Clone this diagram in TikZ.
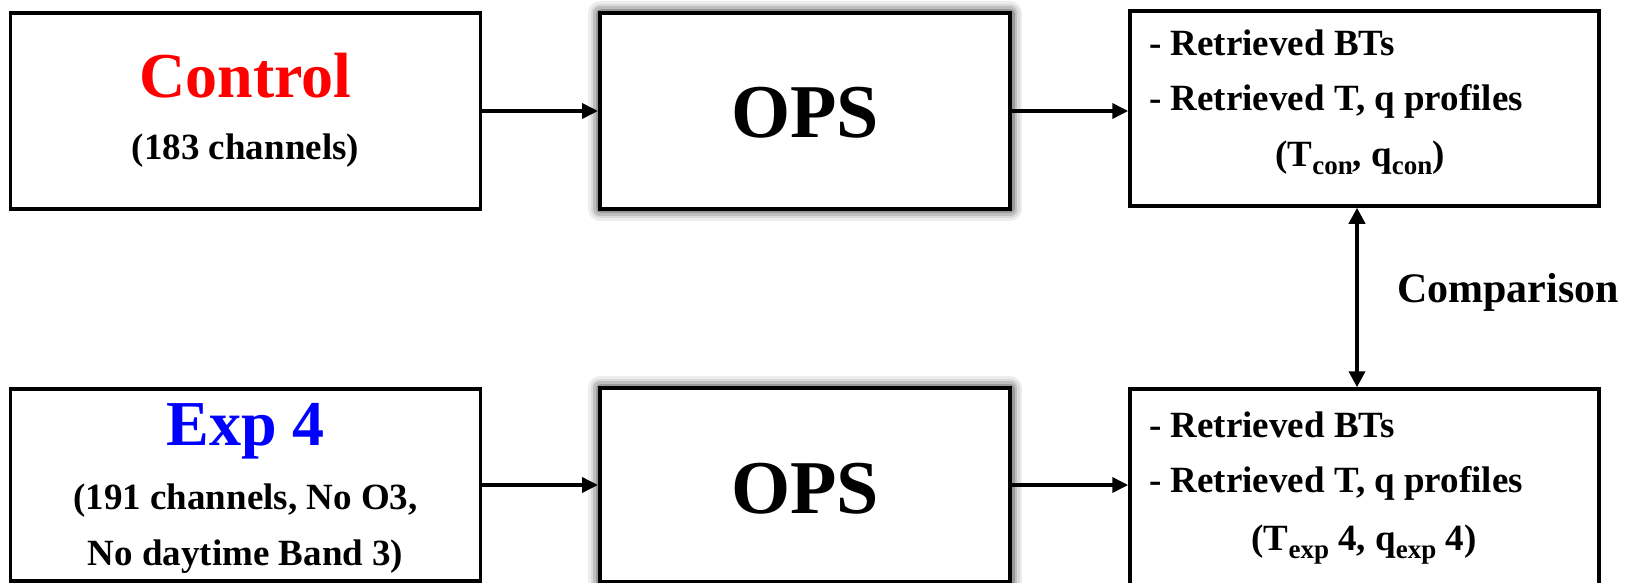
\documentclass[tikz,border=0pt]{standalone}
\usepackage{fontspec}
\setmainfont{Liberation Serif}
\usetikzlibrary{arrows.meta}
\newcommand\lowsub[1]{\raisebox{-8pt}{\fontsize{27}{27}\selectfont #1}}
\begin{document}
\begin{tikzpicture}[x=1pt,y=-1pt,
  box/.style={draw=black,line width=3.5pt,fill=white,inner sep=0pt},
  opsbox/.style={box,line width=4pt,
    preaction={draw=black!7,line width=24pt,line join=round},
    preaction={draw=black!14,line width=19pt,line join=round},
    preaction={draw=black!25,line width=14pt,line join=round},
    preaction={draw=black!40,line width=9pt,line join=round}},
  conn/.style={line width=3.6pt,-{Triangle[length=16pt,width=15pt]}},
  dconn/.style={line width=3.8pt,{Triangle[length=16pt,width=16pt]}-{Triangle[length=16pt,width=16pt]}},
  txt/.style={inner sep=0pt,font=\bfseries\fontsize{37}{44}\selectfont},
  big/.style={inner sep=0pt,font=\bfseries\fontsize{64}{70}\selectfont},
  opst/.style={inner sep=0pt,font=\bfseries\fontsize{76}{80}\selectfont},
]
\useasboundingbox (0,0) rectangle (1634,583);
\clip (0,0) rectangle (1634,583);
% boxes
\node[box,minimum width=470pt,minimum height=195.5pt] (ctrl) at (245.5,111) {};
\node[opsbox,minimum width=410pt,minimum height=195.5pt] (ops1) at (805,111) {};
\node[box,minimum width=469pt,minimum height=195pt] (res1) at (1364.5,108.5) {};
\node[box,minimum width=470pt,minimum height=192pt] (exp4) at (245.5,485) {};
\node[opsbox,minimum width=410pt,minimum height=194pt] (ops2) at (805,485) {};
\node[box,minimum width=469pt,minimum height=205pt] (res2) at (1364.5,491.5) {};
% texts
\node[big,text=red,anchor=base] (ctrlt) at (245.5,98) {Control};
\node[txt,anchor=base] (ctrls) at (245.5,160) {(183 channels)};
\node[opst,anchor=base] (ops1t) at (805,138) {OPS};
\node[big,text=blue,anchor=base] (exp4t) at (245.5,445) {Exp 4};
\node[txt,anchor=base] (exp4a) at (245.5,509) {(191 channels, No O3,};
\node[txt,anchor=base] (exp4b) at (245.5,565) {No daytime Band 3)};
\node[opst,anchor=base] (ops2t) at (805,513) {OPS};
\node[txt,anchor=base west] (r1a) at (1149,56) {- Retrieved BTs};
\node[txt,anchor=base west] (r1b) at (1149,111) {- Retrieved T, q profiles};
\node[txt,anchor=base] (r1c) at (1360,167) {(T\lowsub{con}, q\lowsub{con})};
\node[txt,anchor=base west] (r2a) at (1149,437) {- Retrieved BTs};
\node[txt,anchor=base west] (r2b) at (1149,492) {- Retrieved T, q profiles};
\node[txt,anchor=base] (r2c) at (1364,550) {(T\lowsub{exp} 4, q\lowsub{exp} 4)};
\node[inner sep=0pt,font=\bfseries\fontsize{42}{48}\selectfont,anchor=base west] (cmp) at (1397,302) {Comparison};
% connectors
\draw[conn] (ctrl.east) -- (ops1.west);
\draw[conn] (ops1.east) -- (ops1.east -| res1.west);
\draw[conn] (exp4.east) -- (ops2.west);
\draw[conn] (ops2.east) -- (ops2.east -| res2.west);
\coordinate (cmpx) at (1357,300);
\draw[dconn] (res1.south -| cmpx) -- (res2.north -| cmpx);
\end{tikzpicture}
\end{document}
